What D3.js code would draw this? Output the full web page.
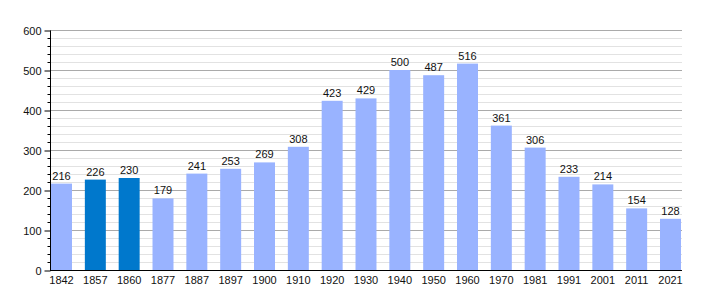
<!DOCTYPE html>
<html>
<head>
<meta charset="utf-8">
<script src="https://cdn.jsdelivr.net/npm/d3@7"></script>
<style>
  body { margin: 0; background: white; }
  text { font-family: "Liberation Sans", Arial, sans-serif; }
</style>
</head>
<body>
<main></main>
<script>
// census years and population
const years = ["1842", "1857", "1860", "1877", "1887", "1897", "1900", "1910", "1920", "1930",
    "1940", "1950", "1960", "1970", "1981", "1991", "2001", "2011", "2021"]
const population = [216, 226, 230, 179, 241, 253, 269, 308, 423, 429,
    500, 487, 516, 361, 306, 233, 214, 154, 128]
const darkYears = ["1857", "1860"]
const yTicks = [0, 100, 200, 300, 400, 500, 600]

const svgWidth = 710
const svgHeight = 300

const plotLeft = 50
const plotRight = 682
const plotTop = 30
const plotBottom = 270

let svg = d3.select("main")
    .append("svg")
    .attr("width", svgWidth)
    .attr("height", svgHeight)

let yScale = d3.scaleLinear()
    .domain([0, 600])
    .range([plotBottom, plotTop])

let xScale = d3.scaleBand()
    .domain(years)
    .range([plotLeft, plotRight])
    .paddingInner(0.38)
    .paddingOuter(0.03)

//minor grid every 20
let minor = d3.range(0, 601, 20).filter(d => d % 100 != 0)
svg.append("g")
    .selectAll("line")
    .data(minor)
    .enter()
    .append("line")
    .attr("x1", plotLeft)
    .attr("x2", plotRight)
    .attr("y1", d => yScale(d) + 0.5)
    .attr("y2", d => yScale(d) + 0.5)
    .attr("stroke", "#e2e2e2")

//major grid
svg.append("g")
    .selectAll("line")
    .data(yTicks.slice(1))
    .enter()
    .append("line")
    .attr("x1", plotLeft)
    .attr("x2", plotRight)
    .attr("y1", d => yScale(d) + 0.5)
    .attr("y2", d => yScale(d) + 0.5)
    .attr("stroke", "#aaaaaa")

//bars
svg.append("g")
    .selectAll("rect")
    .data(years)
    .enter()
    .append("rect")
    .attr("x", d => xScale(d))
    .attr("y", (d, i) => yScale(population[i]))
    .attr("width", xScale.bandwidth())
    .attr("height", (d, i) => plotBottom - yScale(population[i]))
    .attr("fill", d => darkYears.includes(d) ? "#0078cc" : "#99b3ff")

//value labels
svg.append("g")
    .selectAll("text")
    .data(years)
    .enter()
    .append("text")
    .attr("x", d => xScale(d) + xScale.bandwidth() / 2)
    .attr("y", (d, i) => yScale(population[i]) - 4)
    .attr("text-anchor", "middle")
    .style("font-size", "11px")
    .attr("fill", "#111")
    .text((d, i) => population[i])

//y axis
let leftAxis = d3.axisLeft(yScale)
    .tickValues(yTicks)
    .tickSize(6)
    .tickPadding(3)

let yAxis = svg.append("g")
    .attr("transform", `translate(${plotLeft + 0.5}, 0.5)`)
    .call(leftAxis)

yAxis.select("path").attr("d", `M0,${plotTop}V${plotBottom}`).attr("stroke", "black")
yAxis.selectAll("line").attr("stroke", "black")
yAxis.selectAll("text")
    .style("font-size", "11px")
    .attr("fill", "#111")

//minor ticks on the axis
yAxis.append("g")
    .selectAll("line")
    .data(minor)
    .enter()
    .append("line")
    .attr("x1", -3)
    .attr("x2", 0)
    .attr("y1", d => yScale(d))
    .attr("y2", d => yScale(d))
    .attr("stroke", "black")

//x axis
let bottomAxis = d3.axisBottom(xScale).tickSize(0).tickPadding(6)

let xAxis = svg.append("g")
    .attr("transform", `translate(0, ${plotBottom + 0.5})`)
    .call(bottomAxis)

xAxis.select("path").attr("d", `M${plotLeft},0H${plotRight}`).attr("stroke", "black")
xAxis.selectAll("text")
    .style("font-size", "11px")
    .attr("fill", "#111")
</script>
</body>
</html>
